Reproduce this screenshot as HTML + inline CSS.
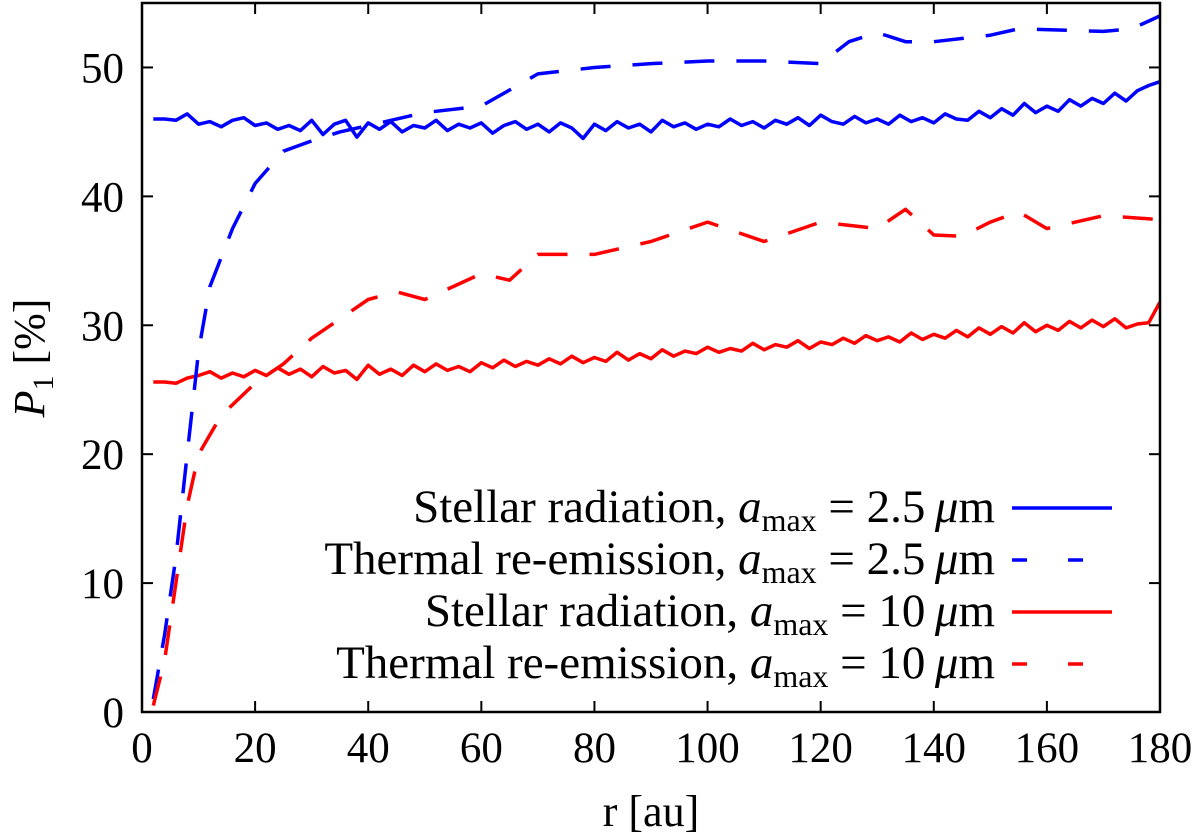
<!DOCTYPE html>
<html><head><meta charset="utf-8"><style>
html,body{margin:0;padding:0;background:#fff;}
svg{display:block;font-family:"Liberation Serif",serif;}
</style></head><body>
<svg id="chart" width="1200" height="836" viewBox="0 0 1200 836"></svg>
<script>
const xTicks=[0,20,40,60,80,100,120,140,160,180];
const yTicks=[0,10,20,30,40,50];
const rStart=2, rStep=2;
const blueSolid=[46.0,46.0,45.9,46.4,45.6,45.8,45.4,45.9,46.1,45.5,45.7,45.2,45.5,45.1,45.9,44.8,45.6,45.9,44.6,45.7,45.2,45.8,45.0,45.5,45.3,45.9,45.1,45.6,45.3,45.7,44.9,45.5,45.8,45.2,45.6,45.0,45.7,45.3,44.5,45.6,45.1,45.8,45.3,45.6,45.0,45.9,45.4,45.7,45.2,45.6,45.4,46.0,45.5,45.8,45.3,45.9,45.6,46.1,45.5,46.3,45.8,45.6,46.2,45.7,46.0,45.6,46.3,45.8,46.1,45.7,46.4,46.0,45.9,46.6,46.1,46.8,46.3,47.2,46.5,47.0,46.6,47.5,47.0,47.6,47.2,48.0,47.4,48.2,48.6,48.9];
const redSolid=[25.6,25.6,25.5,25.9,26.1,26.4,25.9,26.3,26.0,26.5,26.1,26.7,26.2,26.6,26.0,26.8,26.3,26.5,25.8,26.9,26.2,26.6,26.1,26.9,26.4,27.0,26.5,26.8,26.4,27.1,26.7,27.3,26.8,27.2,26.9,27.4,27.0,27.6,27.1,27.5,27.2,27.9,27.3,27.8,27.4,28.1,27.6,28.0,27.8,28.3,27.9,28.2,28.0,28.6,28.1,28.5,28.3,28.8,28.2,28.7,28.5,29.0,28.6,29.2,28.8,29.1,28.7,29.4,28.9,29.3,29.0,29.6,29.1,29.8,29.3,29.9,29.4,30.2,29.5,30.0,29.6,30.3,29.8,30.4,29.9,30.5,29.8,30.1,30.2,31.8];
const blueDashR=[2,4,6,8,10,12,16,20,25,30,35,40,50,60,70,80,90,100,110,120,125,130,135,140,150,155,170,175,180];
const blueDashV=[1,6,12,20,28,33,37.5,41,43.5,44.3,45,45.5,46.5,47,49.5,50,50.3,50.5,50.5,50.3,52,52.7,52,52,52.5,53,52.8,53,54];
const redDashR=[2,4,6,8,10,14,20,25,30,40,45,50,55,60,65,70,80,90,100,110,120,130,135,140,145,150,155,160,170,180];
const redDashV=[0.5,4,10,16,20,23,25.5,27,29,32,32.6,32,33,34,33.5,35.5,35.5,36.5,38,36.5,38,37.5,39,37,36.9,38,38.8,37.5,38.5,38.2];

const L=142,R=1160,T=3,B=712;
const sx=v=>L+(v-0)/180*(R-L);
const sy=v=>B-(v-0)/55*(B-T);
const svg=document.getElementById('chart');
const NS='http://www.w3.org/2000/svg';
function mk(tag,attrs){const e=document.createElementNS(NS,tag);for(const k in attrs)e.setAttribute(k,attrs[k]);svg.appendChild(e);return e;}

const clip=mk('clipPath',{id:'pc'});
const cr=document.createElementNS(NS,'rect');cr.setAttribute('x',L);cr.setAttribute('y',T);cr.setAttribute('width',R-L);cr.setAttribute('height',B-T);clip.appendChild(cr);

xTicks.forEach(v=>{
  const t=mk('line',{x1:sx(v),x2:sx(v),y1:B,y2:B-11,stroke:'#000','stroke-width':2});
  
  
  const t2=mk('line',{x1:sx(v),x2:sx(v),y1:T,y2:T+11,stroke:'#000','stroke-width':2});
  
  
  const lb=mk('text',{x:sx(v),y:762,'text-anchor':'middle','font-size':43});
  lb.textContent=v;
  
  
});
yTicks.forEach(v=>{
  const t=mk('line',{x1:L,x2:L+11,y1:sy(v),y2:sy(v),stroke:'#000','stroke-width':2});
  
  
  const t2=mk('line',{x1:R,x2:R-11,y1:sy(v),y2:sy(v),stroke:'#000','stroke-width':2});
  
  
  const lb=mk('text',{x:124,y:sy(v)+15,'text-anchor':'end','font-size':43});
  lb.textContent=v;
  
  
});

function series(rs,vs,color,dash,name){
  const d=vs.map((v,i)=>(i?'L':'M')+sx(rs(i)).toFixed(1)+' '+sy(v).toFixed(1)).join(' ');
  const p=mk('path',{d:d,fill:'none',stroke:color,'stroke-width':3.5,'stroke-linejoin':'round','clip-path':'url(#pc)'});
  if(dash)p.setAttribute('stroke-dasharray',dash);
  
  
}
series(i=>rStart+rStep*i,blueSolid,'#0000ff',null,'series-stellar-2.5um');
series(i=>rStart+rStep*i,redSolid,'#ff0000',null,'series-stellar-10um');
series(i=>blueDashR[i],blueDashV,'#0000ff','30 22','series-thermal-2.5um');
series(i=>redDashR[i],redDashV,'#ff0000','30 22','series-thermal-10um');

const fr=mk('rect',{x:L,y:T,width:R-L,height:B-T,fill:'none',stroke:'#000','stroke-width':2.5});



const leg=[['Stellar radiation, ','2.5','#0000ff',null,508],['Thermal re-emission, ','2.5','#0000ff','15 41',560],['Stellar radiation, ','10','#ff0000',null,612],['Thermal re-emission, ','10','#ff0000','15 41',664]];
leg.forEach((l,i)=>{
  const t=mk('text',{x:995,y:l[4]+14,'text-anchor':'end','font-size':47});
  t.innerHTML=l[0]+'<tspan font-style="italic">a</tspan><tspan font-size="32" dy="9">max</tspan><tspan dy="-9"> = '+l[1]+'\u2009</tspan><tspan font-style="italic">\u03bc</tspan>m';
  
  
  const ln=mk('line',{x1:1012,x2:1112,y1:l[4],y2:l[4],stroke:l[2],'stroke-width':3.5});
  if(l[3])ln.setAttribute('stroke-dasharray',l[3]);
  
  
});

const xt=mk('text',{x:651,y:826,'text-anchor':'middle','font-size':44});
xt.textContent='r [au]';


const yt=mk('text',{transform:'translate(44,358) rotate(-90)','text-anchor':'middle','font-size':44});
yt.innerHTML='<tspan font-style="italic">P</tspan><tspan font-size="30" dy="9">1</tspan><tspan dy="-9"> [%]</tspan>';


</script>
</body></html>
